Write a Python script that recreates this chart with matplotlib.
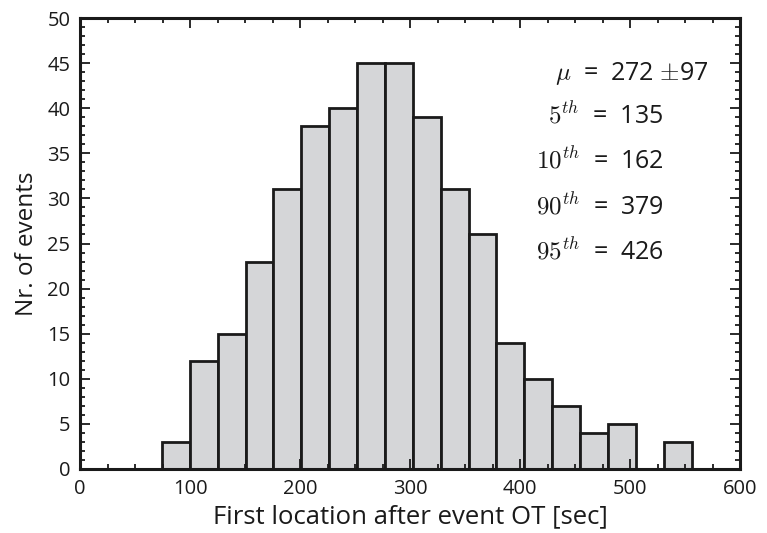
import numpy as np
import matplotlib.pyplot as plt
from matplotlib.ticker import MultipleLocator

plt.rcParams['font.family'] = ['Open Sans', 'DejaVu Sans']
plt.rcParams['mathtext.fontset'] = 'cm'

# histogram data
bin_lo, bin_hi, n_bins = 74.5, 556.0, 19
counts = [3, 12, 15, 23, 31, 38, 40, 45, 45, 39, 31, 26, 14, 10, 7, 4, 5, 0, 3]

# statistics shown in the text block
stat_labels = [r'$\mu$  =  272 $\pm$97', r'$5^{th}$  =  135', r'$10^{th}$  =  162',
               r'$90^{th}$  =  379', r'$95^{th}$  =  426']
stat_x = [432, 425, 415, 415, 415]
stat_y = [43.9, 39.1, 34.1, 29.1, 24.1]

edges = np.linspace(bin_lo, bin_hi, n_bins + 1)
centers = 0.5 * (edges[:-1] + edges[1:])

fig = plt.figure(figsize=(7.67, 5.33), dpi=100)
ax = fig.add_axes([80 / 767, 64 / 533, 660 / 767, 451 / 533])

ax.hist(centers, bins=edges, weights=counts, color='#d5d6d8',
        edgecolor='#1a1a1a', linewidth=2.0)

for lab, x, y in zip(stat_labels, stat_x, stat_y):
    ax.text(x, y, lab, fontsize=18, va='center', ha='left', color='#1a1a1a')

ax.set_xlim(0, 600)
ax.set_ylim(0, 50)
ax.xaxis.set_major_locator(MultipleLocator(100))
ax.xaxis.set_minor_locator(MultipleLocator(25))
ax.yaxis.set_major_locator(MultipleLocator(5))
ax.yaxis.set_minor_locator(MultipleLocator(1))
ax.tick_params(which='both', direction='in', top=True, right=True,
               colors='#1a1a1a', labelsize=14.5, width=1.3)
ax.tick_params(which='major', length=7, pad=7)
ax.tick_params(which='minor', length=3.5)
for sp in ax.spines.values():
    sp.set_linewidth(2.2)
    sp.set_color('#1a1a1a')

ax.set_xlabel('First location after event OT [sec]', fontsize=18.5, color='#1a1a1a', labelpad=4)
ax.set_ylabel('Nr. of events', fontsize=17.5, color='#1a1a1a', labelpad=6)

plt.savefig('out.png', dpi=100)
